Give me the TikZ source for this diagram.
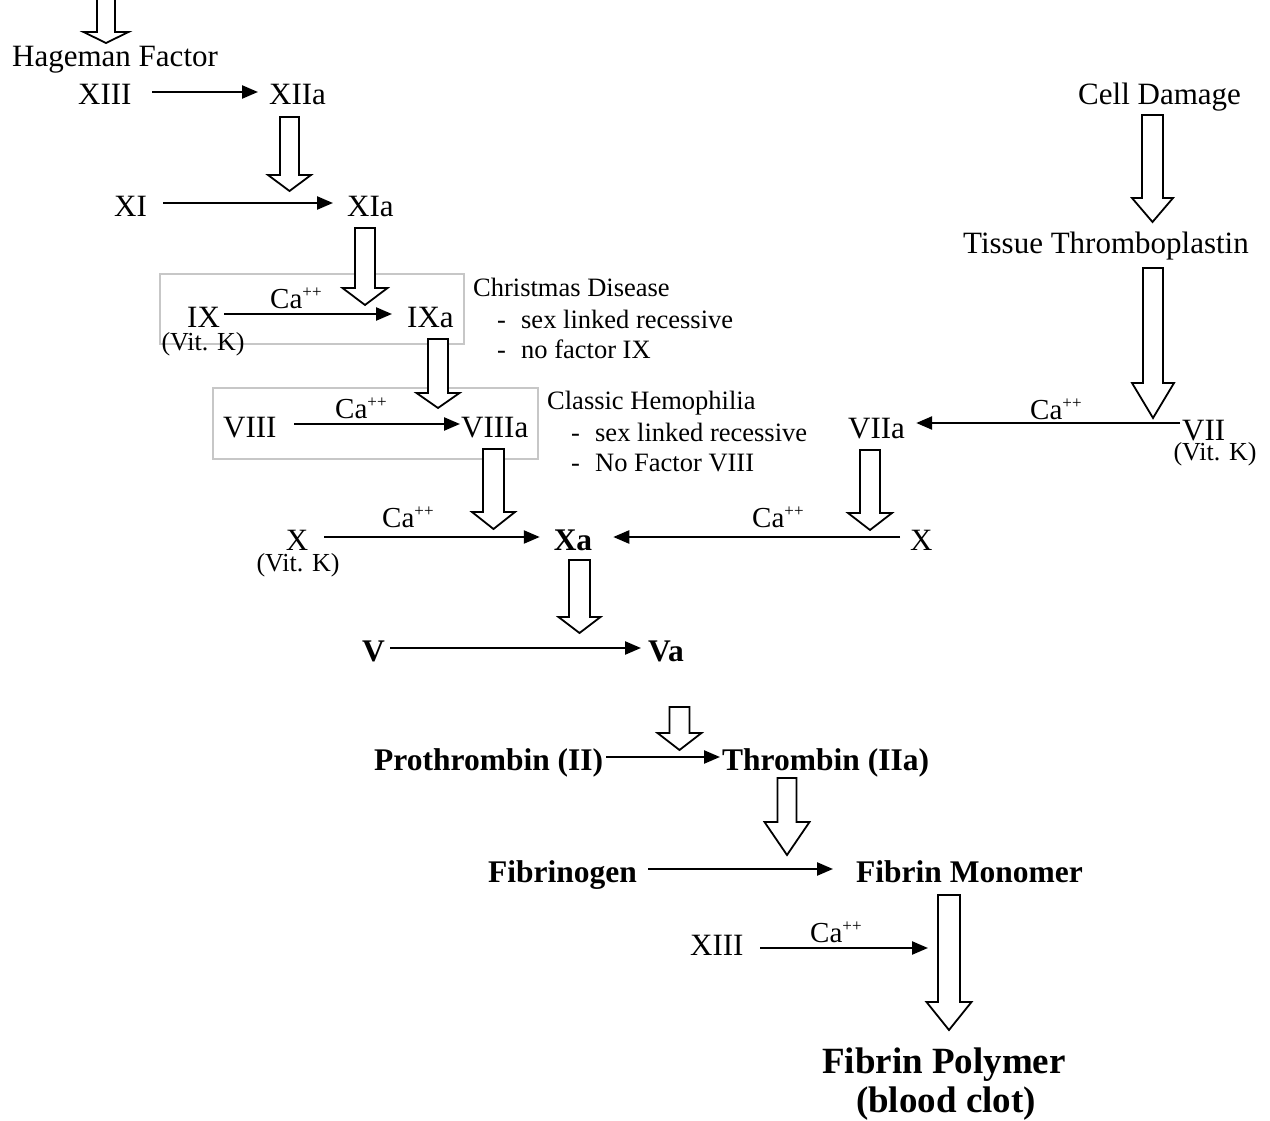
\documentclass[tikz,border=0pt]{standalone}
\usepackage{fontspec}
\setmainfont{Liberation Serif}
\usetikzlibrary{arrows.meta}
\newcommand{\capp}{Ca\raisebox{10.5pt}{\fontsize{17}{17}\selectfont ++}}
\newcommand{\hollowarrow}[6]{%
  \draw[hollow] (#1-#2,#3) -- (#1+#2,#3) -- (#1+#2,#4) -- (#1+#5,#4) -- (#1,#6) -- (#1-#5,#4) -- (#1-#2,#4) -- cycle;}
\begin{document}
\begin{tikzpicture}[x=1pt,y=-1pt,
  txt/.style={inner sep=0pt, anchor=base west, text height=26pt, text depth=0pt, font=\fontsize{31}{31}\selectfont},
  btxt/.style={txt, font=\fontsize{31.5}{31.5}\selectfont\bfseries},
  small/.style={inner sep=0pt, anchor=base west, font=\fontsize{26.5}{26.5}\selectfont},
  vitk/.style={inner sep=0pt, anchor=base, font=\fontsize{26}{26}\selectfont},
  ca/.style={inner sep=0pt, anchor=base west, font=\fontsize{29}{29}\selectfont},
  arr/.style={line width=2.4pt, -{Triangle[length=16pt,width=13pt]}},
  hollow/.style={draw=black, line width=1.8pt, fill=white, line join=miter},
  grp/.style={draw=black!22, line width=2pt}
]
\useasboundingbox (0,0) rectangle (1270,1121);
\clip (0,0) rectangle (1270,1121);

% cut-off heading at the top
\node[txt, anchor=base west] (top) at (109.5,-7) {(Foreign Body)};

% group boxes
\draw[grp] (160,274) rectangle (464,344);
\draw[grp] (213,388) rectangle (538,459);

% intrinsic pathway
\node[txt] (hag) at (12,67) {Hageman Factor};
\node[txt] (xiii) at (78,105) {XIII};
\node[txt] (xiia) at (269,105) {XIIa};
\node[txt] (xi) at (114,216) {XI};
\node[txt] (xia) at (347,216) {XIa};
\node[txt] (ix) at (187,327) {IX};
\node[txt] (ixa) at (407,327) {IXa};
\node[vitk] (vk1) at (203,350) {(Vit. K)};
\node[ca] (ca1) at (270,308) {\capp};
\node[txt] (viii) at (223,437) {VIII};
\node[txt] (viiia) at (461,437) {VIIIa};
\node[ca] (ca2) at (335,418) {\capp};

% notes
\node[small] (cd) at (473,296) {Christmas Disease};
\node[small] (cd1) at (497,328) {\makebox[24pt][l]{-}sex linked recessive};
\node[small] (cd2) at (497,358) {\makebox[24pt][l]{-}no factor IX};
\node[small] (ch) at (547,409) {Classic Hemophilia};
\node[small] (ch1) at (571,441) {\makebox[24pt][l]{-}sex linked recessive};
\node[small] (ch2) at (571,471) {\makebox[24pt][l]{-}No Factor VIII};

% extrinsic pathway
\node[txt] (cell) at (1078,105) {Cell Damage};
\node[txt] (tiss) at (963,253) {Tissue Thromboplastin};
\node[txt] (vii) at (1182,440) {VII};
\node[vitk] (vk2) at (1215,460) {(Vit. K)};
\node[txt] (viia) at (848,438) {VIIa};
\node[ca] (ca3) at (1030,419) {\capp};

% common pathway
\node[txt, anchor=base] (xl) at (297,550) {X};
\node[vitk] (vk3) at (298,571) {(Vit. K)};
\node[ca] (ca4) at (382,527) {\capp};
\node[btxt, anchor=base] (xa) at (573,550) {Xa};
\node[ca] (ca5) at (752,527) {\capp};
\node[txt] (xr) at (910,550) {X};
\node[btxt] (v) at (362,661) {V};
\node[btxt] (va) at (648,661) {Va};
\node[btxt] (pro) at (374,770) {Prothrombin (II)};
\node[btxt] (thr) at (722,770) {Thrombin (IIa)};
\node[btxt] (fgn) at (488,882) {Fibrinogen};
\node[btxt] (fmo) at (856,882) {Fibrin Monomer};
\node[txt] (xiii2) at (690,955) {XIII};
\node[ca] (ca6) at (810,942) {\capp};
\coordinate (tipF) at (928,948);
\node[inner sep=0pt, anchor=base, font=\fontsize{37}{37}\selectfont\bfseries] (fpo) at (944,1073) {Fibrin Polymer};
\node[inner sep=0pt, anchor=base, font=\fontsize{37}{37}\selectfont\bfseries] (clot) at (946,1112) {(blood clot)};

% thin reaction arrows
\draw[arr, shorten <=20.5pt, shorten >=11pt] (xiii.east) -- (xiia.west);
\draw[arr, shorten <=16.3pt, shorten >=14pt] (xi.east) -- (xia.west);
\draw[arr, shorten <=4.3pt, shorten >=15pt] (ix.east) -- (ixa.west);
\draw[arr, shorten <=17.6pt, shorten >=1pt] (viii.east) -- (viiia.west);
\draw[arr, shorten <=2pt, shorten >=11pt] ([yshift=4pt]vii.west) -- ([yshift=2pt]viia.east);
\draw[arr, shorten <=15.8pt, shorten >=13.8pt] (xl.east) -- (xa.west);
\draw[arr, shorten <=10pt, shorten >=20.8pt] (xr.west) -- (xa.east);
\draw[arr, shorten <=5.3pt, shorten >=7pt] (v.east) -- (va.west);
\draw[arr, shorten <=3pt, shorten >=2pt] (pro.east) -- (thr.west);
\draw[arr, shorten <=11pt, shorten >=23pt] (fgn.east) -- (fmo.west);
\draw[arr, shorten <=16.6pt] (xiii2.east |- tipF) -- (tipF);

% hollow (enzyme) arrows
\hollowarrow{106}{9}{-5}{32}{22.5}{43}
\hollowarrow{289.5}{9.5}{117}{175}{21.5}{191}
\hollowarrow{365}{10}{228}{288}{22.5}{305}
\hollowarrow{438}{10}{339}{393}{21.5}{408}
\hollowarrow{493.5}{10.5}{449}{512}{21.5}{529}
\hollowarrow{870}{10}{450}{513}{22}{530}
\hollowarrow{579.5}{10.5}{560}{617}{21}{633}
\hollowarrow{1152.5}{10.5}{115}{198}{20.5}{222}
\hollowarrow{1153}{10}{268}{383}{21}{418}
\hollowarrow{679.5}{10}{707}{733}{22}{750}
\hollowarrow{787}{9.5}{778}{822}{22.5}{855}
\hollowarrow{949}{11}{895}{1002}{22.5}{1030}
\end{tikzpicture}
\end{document}
